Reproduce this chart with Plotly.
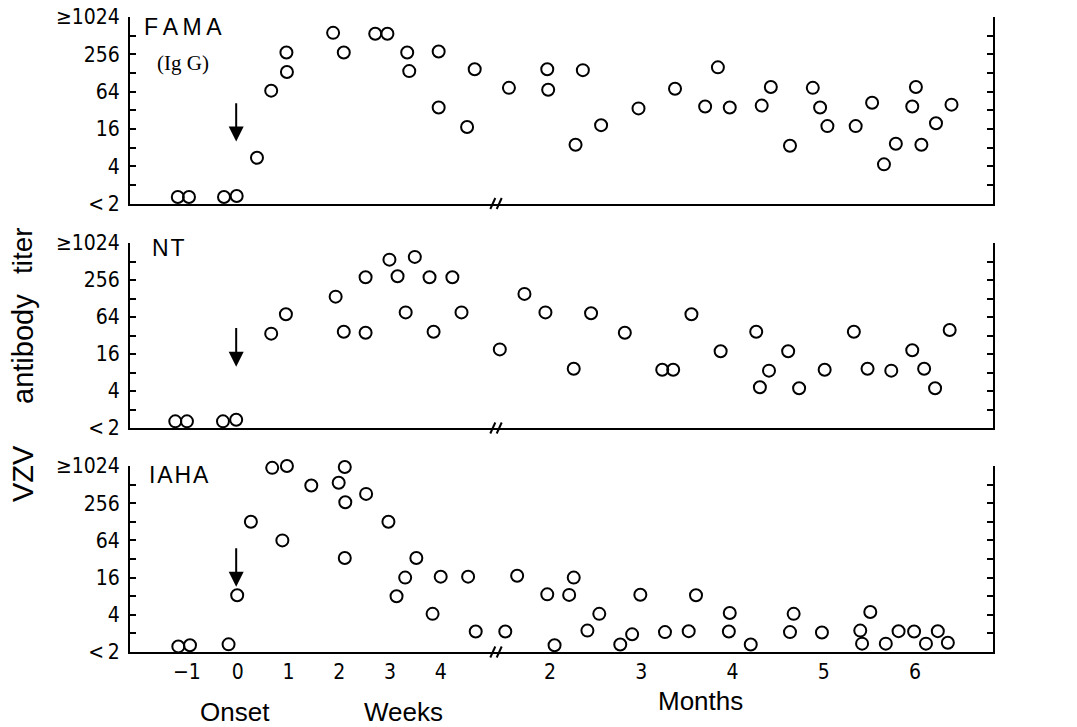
import plotly.graph_objects as go

# ---------------- data (log2 titer level: 0 = "<2", 2 = 4, 4 = 16, ... 10 = >=1024) -------------
FAMA_WEEKS_X = [-1.18, -0.96, -0.27, -0.02, 0.38, 0.66, 0.96, 0.97, 1.88, 2.09, 2.71, 2.95, 3.34, 3.38, 3.96, 3.96, 4.52, 4.67]
FAMA_WEEKS_Y = [0.35, 0.35, 0.35, 0.4, 2.45, 6.05, 8.1, 7.05, 9.15, 8.1, 9.1, 9.1, 8.1, 7.1, 8.15, 5.15, 4.1, 7.2]
FAMA_MONTHS_X = [1.55, 1.97, 1.98, 2.28, 2.36, 2.56, 2.97, 3.37, 3.70, 3.84, 3.97, 4.32, 4.42, 4.63, 4.88, 4.96, 5.04, 5.35, 5.53, 5.66, 5.79, 5.97, 6.01, 6.07, 6.23, 6.40]
FAMA_MONTHS_Y = [6.2, 7.2, 6.1, 3.15, 7.15, 4.2, 5.1, 6.15, 5.2, 7.3, 5.15, 5.25, 6.25, 3.1, 6.2, 5.15, 4.15, 4.15, 5.4, 2.1, 3.2, 5.2, 6.25, 3.15, 4.3, 5.3]

NT_WEEKS_X = [-1.23, -1.0, -0.29, -0.03, 0.66, 0.95, 1.93, 2.09, 2.52, 2.52, 2.99, 3.15, 3.31, 3.49, 3.78, 3.86, 4.23, 4.41]
NT_WEEKS_Y = [0.36, 0.36, 0.36, 0.45, 5.1, 6.15, 7.1, 5.2, 8.15, 5.15, 9.1, 8.2, 6.25, 9.25, 8.15, 5.2, 8.15, 6.25]
NT_MONTHS_X = [1.45, 1.72, 1.95, 2.26, 2.45, 2.82, 3.23, 3.35, 3.55, 3.87, 4.26, 4.30, 4.40, 4.61, 4.73, 5.01, 5.33, 5.48, 5.74, 5.97, 6.10, 6.22, 6.38]
NT_MONTHS_Y = [4.25, 7.25, 6.25, 3.2, 6.2, 5.15, 3.15, 3.15, 6.15, 4.15, 5.2, 2.2, 3.1, 4.15, 2.15, 3.15, 5.2, 3.2, 3.1, 4.2, 3.2, 2.15, 5.3]

IAHA_WEEKS_X = [-1.17, -0.94, -0.18, -0.01, 0.26, 0.68, 0.97, 0.88, 1.45, 1.67, 1.99, 2.11, 2.12, 2.11, 2.53, 2.97, 3.13, 3.30, 3.52, 3.84, 4.00, 4.54, 4.69]
IAHA_WEEKS_Y = [0.3, 0.36, 0.41, 3.05, 7.0, 9.9, 10.0, 6.0, 8.95, 10.05, 9.1, 9.95, 8.05, 5.05, 8.5, 7.0, 3.0, 4.0, 5.05, 2.05, 4.05, 4.05, 1.1]
IAHA_MONTHS_X = [1.51, 1.64, 1.97, 2.05, 2.21, 2.26, 2.41, 2.54, 2.77, 2.90, 2.99, 3.26, 3.52, 3.60, 3.96, 3.97, 4.20, 4.63, 4.67, 4.98, 5.40, 5.42, 5.51, 5.68, 5.82, 5.99, 6.12, 6.25, 6.36]
IAHA_MONTHS_Y = [1.1, 4.1, 3.1, 0.36, 3.07, 4.0, 1.15, 2.05, 0.4, 0.95, 3.08, 1.07, 1.12, 3.05, 1.1, 2.1, 0.4, 1.07, 2.05, 1.05, 1.15, 0.45, 2.15, 0.45, 1.12, 1.1, 0.45, 1.12, 0.5]

PANEL_NAMES = ["FAMA", "NT", "IAHA"]
PANEL_LABELS = ["F\u2009A\u2009M\u2009A", "N\u200aT", "I\u200aA\u200aH\u200aA"]
Y_LEVELS = list(range(0, 11))
Y_TICK_TEXT = ["<\u20092", "", "4", "", "16", "", "64", "", "256", "", "\u22651024"]
WEEK_TICKS = [-1, 0, 1, 2, 3, 4]
WEEK_TICK_TEXT = ["\u22121", "0", "1", "2", "3", "4"]
MONTH_TICKS = [2, 3, 4, 5, 6]
MONTH_TICK_TEXT = ["2", "3", "4", "5", "6"]
ARROW_LEVELS = [(5.46, 3.32), (5.48, 3.31), (5.66, 3.51)]

# ---------------- broken time scale: weeks, then months ----------------
WEEK_PX = 50.75          # screen px per week
MONTH_PX = 91.25         # screen px per month
WEEK0_SCREEN = 237.7
MONTH2_SCREEN = 550.0
MONTH2_POS = (MONTH2_SCREEN - WEEK0_SCREEN) / WEEK_PX
UNITS_PER_MONTH = MONTH_PX / WEEK_PX
BREAK_POS = (496 - WEEK0_SCREEN) / WEEK_PX


def month_pos(m):
    return MONTH2_POS + (m - 2) * UNITS_PER_MONTH


# ---------------- frame (page body margin removed, so screen px = figure px) ----------------
W, H = 1077, 727
LEFT_SCREEN, RIGHT_SCREEN = 130.0, 993.0
ML = LEFT_SCREEN
MR = W - RIGHT_SCREEN
MT, MB = 17, 75
PLOT_H = H - MT - MB
PLOT_W = W - ML - MR
PANEL_SCREEN = [(17, 203.5), (243, 428), (466, 652)]
X_RANGE = [(LEFT_SCREEN - WEEK0_SCREEN) / WEEK_PX, (RIGHT_SCREEN - WEEK0_SCREEN) / WEEK_PX]
UNIT_PX = WEEK_PX


def fy(s):
    return (H - MB - s) / PLOT_H


def fx(s):
    return (s - ML) / PLOT_W


TICK_FONT = "Liberation Sans Narrow, DejaVu Sans Condensed, Arial Narrow, sans-serif"
TEXT_FONT = "Liberation Sans, Arial, Helvetica, sans-serif"

fig = go.Figure()

series = [
    (FAMA_WEEKS_X, FAMA_WEEKS_Y, FAMA_MONTHS_X, FAMA_MONTHS_Y),
    (NT_WEEKS_X, NT_WEEKS_Y, NT_MONTHS_X, NT_MONTHS_Y),
    (IAHA_WEEKS_X, IAHA_WEEKS_Y, IAHA_MONTHS_X, IAHA_MONTHS_Y),
]

marker = dict(symbol="circle-open", size=12, color="black", line=dict(width=2, color="black"))

for i, (wx, wy, mx, my) in enumerate(series):
    n = i + 1
    xs = list(wx) + [month_pos(m) for m in mx]
    ys = list(wy) + list(my)
    fig.add_trace(go.Scatter(
        x=xs, y=ys, mode="markers", marker=marker, name=PANEL_NAMES[i],
        xaxis=f"x{n}" if n > 1 else "x", yaxis=f"y{n}" if n > 1 else "y",
        showlegend=False, cliponaxis=False, hoverinfo="x+y",
    ))

layout = dict(
    template="none",
    width=W, height=H,
    margin=dict(l=ML, r=MR, t=MT, b=MB, pad=0, autoexpand=False),
    plot_bgcolor="white", paper_bgcolor="white",
    showlegend=False,
)

all_xticks = WEEK_TICKS + [month_pos(m) for m in MONTH_TICKS]
all_xtext = WEEK_TICK_TEXT + MONTH_TICK_TEXT

for i in range(3):
    n = i + 1
    top, bot = PANEL_SCREEN[i]
    xkey = "xaxis" if n == 1 else f"xaxis{n}"
    ykey = "yaxis" if n == 1 else f"yaxis{n}"
    yanchor = "y" if n == 1 else f"y{n}"
    xanchor = "x" if n == 1 else f"x{n}"
    layout[xkey] = dict(
        domain=[0, 1], range=X_RANGE, anchor=yanchor, automargin=False,
        showline=True, linecolor="black", linewidth=2,
        showgrid=False, zeroline=False, ticks="",
        tickmode="array", tickvals=all_xticks,
        ticktext=all_xtext if n == 3 else [""] * len(all_xticks),
        showticklabels=(n == 3),
        tickfont=dict(family=TICK_FONT, size=21, color="black"),
        ticklabeloverflow="allow",
        fixedrange=True,
    )
    layout[ykey] = dict(
        domain=[fy(bot), fy(top)], range=[0, 10], anchor=xanchor, automargin=False,
        showline=True, linecolor="black", linewidth=2, mirror="ticks",
        showgrid=False, zeroline=False,
        ticks="inside", ticklen=6, tickwidth=1.5, tickcolor="black",
        tickmode="array", tickvals=Y_LEVELS, ticktext=Y_TICK_TEXT,
        tickfont=dict(family=TICK_FONT, size=21, color="black"),
        ticklabelstandoff=4, ticklabeloverflow="allow",
        fixedrange=True,
    )

fig.update_layout(**layout)

annotations = []
shapes = []
label_screen = [(141.7, 26.7), (150, 248.3), (146.7, 475)]
for i in range(3):
    n = i + 1
    xr = "x" if n == 1 else f"x{n}"
    yr = "y" if n == 1 else f"y{n}"
    annotations.append(dict(
        x=fx(label_screen[i][0]), y=fy(label_screen[i][1]), xref="paper", yref="paper",
        text=PANEL_LABELS[i], showarrow=False, xanchor="left", yanchor="middle",
        font=dict(family=TEXT_FONT, size=23, color="black"),
    ))
    a_top, a_tip = ARROW_LEVELS[i]
    annotations.append(dict(
        x=-0.03, y=a_tip, ax=-0.03, ay=a_top, xref=xr, yref=yr, axref=xr, ayref=yr,
        text="", showarrow=True, arrowhead=2, arrowsize=1.5, arrowwidth=2,
        arrowcolor="black", standoff=0,
    ))
    dx = 3.2 / UNIT_PX
    ph = PANEL_SCREEN[i][1] - PANEL_SCREEN[i][0]
    dy = 5.5 / ph
    for off in (-dx, dx):
        shapes.append(dict(
            type="line", xref=xr, yref=f"{yr} domain",
            x0=BREAK_POS + off - 2.5 / UNIT_PX, x1=BREAK_POS + off + 2.5 / UNIT_PX,
            y0=-dy, y1=dy, line=dict(color="black", width=2),
        ))

annotations.append(dict(
    x=fx(155), y=fy(63.3), xref="paper", yref="paper", text="(Ig G)", showarrow=False,
    xanchor="left", yanchor="middle",
    font=dict(family="Liberation Serif, Times New Roman, serif", size=21, color="black"),
))

# rotated y-axis title, three words
for word, ys, size in (("VZV", 474, 29), ("antibody", 349, 29), ("titer", 251, 28)):
    annotations.append(dict(
        x=fx(23), y=fy(ys), xref="paper", yref="paper",
        text=word, textangle=-90, showarrow=False,
        xanchor="center", yanchor="middle",
        font=dict(family=TEXT_FONT, size=size, color="black"),
    ))

annotations.append(dict(
    x=-0.05, y=fy(712), xref="x3", yref="paper", text="Onset", showarrow=False,
    xanchor="center", yanchor="middle", font=dict(family=TEXT_FONT, size=26, color="black"),
))
annotations.append(dict(
    x=3.26, y=fy(712), xref="x3", yref="paper", text="Weeks", showarrow=False,
    xanchor="center", yanchor="middle", font=dict(family=TEXT_FONT, size=26, color="black"),
))
annotations.append(dict(
    x=month_pos(3.65), y=fy(701), xref="x3", yref="paper", text="Months", showarrow=False,
    xanchor="center", yanchor="middle", font=dict(family=TEXT_FONT, size=26, color="black"),
))

fig.update_layout(annotations=annotations, shapes=shapes)
fig.write_html("out.html", config={"displayModeBar": False},
               post_script="document.body.style.margin='0px';")
